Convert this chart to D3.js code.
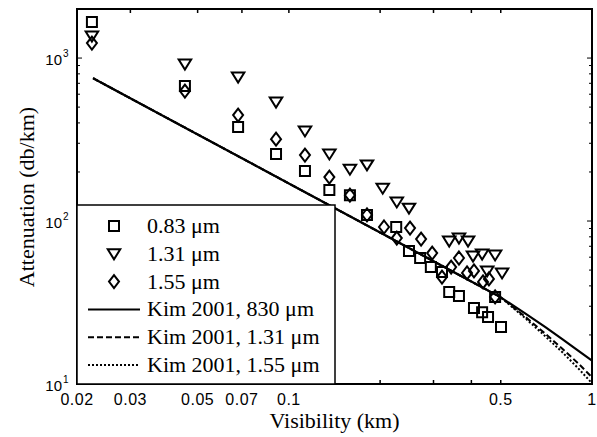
<!DOCTYPE html>
<html lang="en">
<head>
  <meta charset="UTF-8">
  <title>Attenuation vs Visibility</title>
  <script src="https://d3js.org/d3.v7.min.js"></script>
  <style>
    body { margin: 0; padding: 0; background: #fff; }
    svg { display: block; }
    .serif { font-family: "Liberation Serif", "Times New Roman", serif; }
    .sans { font-family: "Liberation Sans", Arial, sans-serif; }
  </style>
</head>
<body>
  <svg width="597" height="437"></svg>
  <script>
    // dati (km, dB/km)
    const vis083 = [0.0224, 0.0454, 0.0680, 0.0907, 0.113, 0.136, 0.159, 0.181, 0.226, 0.249, 0.271, 0.294, 0.320, 0.338, 0.364, 0.408, 0.434, 0.454, 0.479, 0.501];
    const att083 = [1663, 673, 377, 258, 203, 155, 144, 109, 91.9, 65.5, 59.3, 52.2, 48.7, 36.7, 34.7, 29.3, 27.6, 25.8, 34.2, 22.4];

    const vis131 = [0.0224, 0.0454, 0.0680, 0.0907, 0.113, 0.136, 0.159, 0.181, 0.204, 0.227, 0.249, 0.338, 0.364, 0.390, 0.405, 0.434, 0.479, 0.451, 0.505];
    const att131 = [1365, 919, 764, 537, 357, 258, 208, 221, 159, 131, 120, 75.4, 78.6, 75.4, 61.0, 62.7, 61.9, 49.4, 48.0];

    const vis155 = [0.0224, 0.0454, 0.0680, 0.0907, 0.113, 0.136, 0.159, 0.181, 0.206, 0.251, 0.227, 0.273, 0.297, 0.320, 0.343, 0.364, 0.387, 0.408, 0.437, 0.457, 0.479];
    const att155 = [1236, 627, 447, 318, 254, 186, 144, 109, 91.9, 90.6, 78.6, 77.5, 63.6, 45.3, 52.2, 59.3, 48.0, 49.4, 42.3, 44.1, 34.2];

    // curve del modello Kim 2001
    const kimVis = [0.0226, 0.05, 0.1, 0.2, 0.3, 0.4, 0.5, 0.6, 0.7, 0.8, 0.9, 1.0];
    const kim830 = [752, 340, 170, 85, 56.7, 42.5, 34, 27.2, 22.4, 18.8, 16.0, 13.9];
    const kim1310 = [752, 340, 170, 85, 56.7, 42.5, 34, 26.0, 20.4, 16.4, 13.4, 11.0];
    const kim1550 = [752, 340, 170, 85, 56.7, 42.5, 34, 25.5, 19.7, 15.6, 12.5, 10.1];

    const xTicks = [0.02, 0.03, 0.05, 0.07, 0.1, 0.2, 0.3, 0.4, 0.5, 1];
    const xTickLabels = ["0.02", "0.03", "0.05", "0.07", "0.1", "", "", "", "0.5", "1"];
    const yMajor = [10, 100, 1000];
    const yExp = ["1", "2", "3"];
    const yMinor = [20, 30, 40, 50, 60, 70, 80, 90, 200, 300, 400, 500, 600, 700, 800, 900];

    const legendLabels = ["0.83 \u03bcm", "1.31 \u03bcm", "1.55 \u03bcm", "Kim 2001, 830 \u03bcm", "Kim 2001, 1.31 \u03bcm", "Kim 2001, 1.55 \u03bcm"];

    const svg = d3.select("svg");
    const m = {left: 77, right: 592, top: 9, bottom: 384};

    const x = d3.scaleLog().domain([0.02, 1]).range([m.left, m.right]);
    const y = d3.scaleLog().domain([10, 2000]).range([m.bottom, m.top]);

    // forme dei marker
    const shapes = {
      square: s => `M${-s},${-s}H${s}V${s}H${-s}Z`,
      triangle: s => `M${-s * 1.25},${-s * 0.9}H${s * 1.25}L0,${s * 1.1}Z`,
      diamond: s => `M0,${-s * 1.3}L${s},0L0,${s * 1.3}L${-s},0Z`
    };

    const plot = svg.append("g");

    // linee del modello
    const line = d3.line().x(d => x(d[0])).y(d => y(d[1]));
    const curves = [
      {v: kim1550, dash: "2,2", w: 2},
      {v: kim1310, dash: "6,3", w: 2},
      {v: kim830, dash: null, w: 2.2}
    ];
    curves.forEach(c => {
      plot.append("path")
        .datum(kimVis.map((v, i) => [v, c.v[i]]))
        .attr("d", line)
        .attr("fill", "none")
        .attr("stroke", "#000")
        .attr("stroke-width", c.w)
        .attr("stroke-dasharray", c.dash);
    });

    // punti misurati
    const series = [
      {vis: vis083, att: att083, shape: "square"},
      {vis: vis131, att: att131, shape: "triangle"},
      {vis: vis155, att: att155, shape: "diamond"}
    ];
    series.forEach(s => {
      plot.selectAll(null)
        .data(s.vis.map((v, i) => [v, s.att[i]]))
        .enter()
        .append("path")
        .attr("transform", d => `translate(${x(d[0])},${y(d[1])})`)
        .attr("d", shapes[s.shape](5))
        .attr("fill", "none")
        .attr("stroke", "#000")
        .attr("stroke-width", 2);
    });

    // cornice e tick
    const axes = svg.append("g").attr("stroke", "#000");
    axes.append("rect")
      .attr("x", m.left).attr("y", m.top)
      .attr("width", m.right - m.left).attr("height", m.bottom - m.top)
      .attr("fill", "none").attr("stroke-width", 2);

    xTicks.forEach(t => {
      axes.append("line").attr("x1", x(t)).attr("x2", x(t)).attr("y1", m.bottom).attr("y2", m.bottom - 4).attr("stroke-width", 1.5);
      axes.append("line").attr("x1", x(t)).attr("x2", x(t)).attr("y1", m.top).attr("y2", m.top + 4).attr("stroke-width", 1.5);
    });
    yMajor.concat(yMinor).forEach(t => {
      const len = yMajor.includes(t) ? 5 : 3;
      axes.append("line").attr("x1", m.left).attr("x2", m.left + len).attr("y1", y(t)).attr("y2", y(t)).attr("stroke-width", 1);
      axes.append("line").attr("x1", m.right).attr("x2", m.right - len).attr("y1", y(t)).attr("y2", y(t)).attr("stroke-width", 1);
    });

    // etichette asse x
    svg.append("g").attr("class", "sans")
      .selectAll("text")
      .data(xTicks.map((t, i) => [t, xTickLabels[i]]).filter(d => d[1] !== ""))
      .enter()
      .append("text")
      .attr("x", d => x(d[0]))
      .attr("y", m.bottom + 21)
      .attr("text-anchor", "middle")
      .attr("font-size", 16)
      .attr("letter-spacing", 0.5)
      .text(d => d[1]);

    // etichette asse y (10^n)
    const yl = svg.append("g").attr("class", "sans");
    yMajor.forEach((t, i) => {
      yl.append("text")
        .attr("x", 62).attr("y", y(t) + 7)
        .attr("text-anchor", "end")
        .attr("font-size", 15)
        .text("10");
      yl.append("text")
        .attr("x", 63).attr("y", y(t) - 1)
        .attr("font-size", 10)
        .text(yExp[i]);
    });

    // titoli assi
    svg.append("text").attr("class", "serif")
      .attr("x", (m.left + m.right) / 2).attr("y", 428)
      .attr("text-anchor", "middle")
      .attr("font-size", 22)
      .text("Visibility (km)");
    svg.append("text").attr("class", "serif")
      .attr("transform", `translate(34,${197}) rotate(-90)`)
      .attr("text-anchor", "middle")
      .attr("font-size", 22)
      .text("Attenuation (db/km)");

    // legenda
    const lg = svg.append("g");
    lg.append("rect")
      .attr("x", m.left).attr("y", 205)
      .attr("width", 335 - m.left).attr("height", m.bottom - 205)
      .attr("fill", "#fff").attr("stroke", "#000").attr("stroke-width", 1.5);
    const rowY = d3.range(legendLabels.length).map(i => 226 + i * 27.8);
    ["square", "triangle", "diamond"].forEach((sh, i) => {
      lg.append("path")
        .attr("transform", `translate(114,${rowY[i]})`)
        .attr("d", shapes[sh](5))
        .attr("fill", "none").attr("stroke", "#000").attr("stroke-width", 2);
    });
    [null, "6,3", "2,2"].forEach((dash, i) => {
      lg.append("line")
        .attr("x1", 88).attr("x2", 140)
        .attr("y1", rowY[i + 3]).attr("y2", rowY[i + 3])
        .attr("stroke", "#000").attr("stroke-width", 2)
        .attr("stroke-dasharray", dash);
    });
    lg.selectAll("text")
      .data(legendLabels)
      .enter()
      .append("text")
      .attr("class", "serif")
      .attr("x", 147)
      .attr("y", (d, i) => rowY[i] + 7)
      .attr("font-size", 22)
      .text(d => d);
  </script>
</body>
</html>
